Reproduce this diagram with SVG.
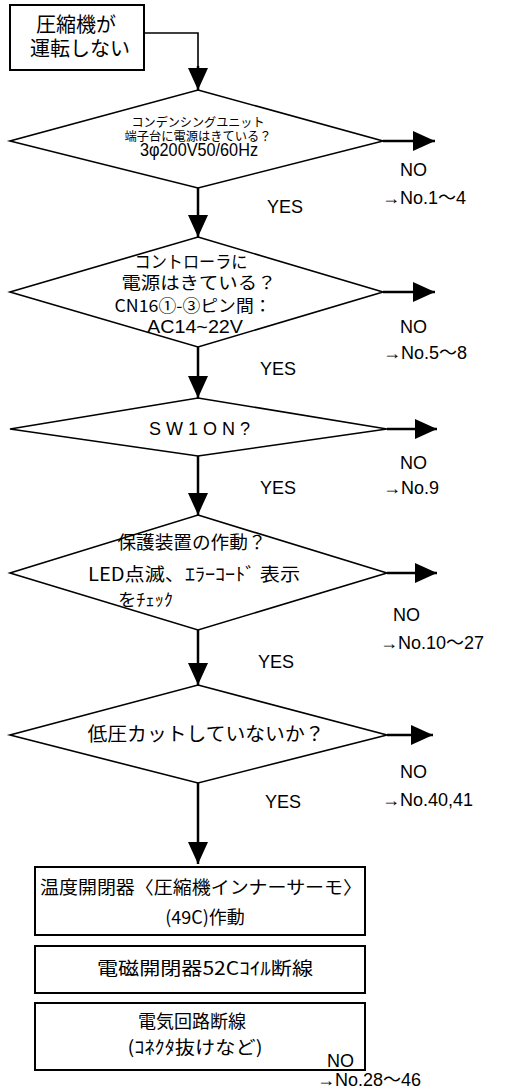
<svg xmlns="http://www.w3.org/2000/svg" width="510" height="1091" viewBox="0 0 510 1091">
<style>
.bg{fill:#fff}
.box{fill:#fff;stroke:#000;stroke-width:2}
.dia{fill:#fff;stroke:#000;stroke-width:1.6;stroke-linejoin:miter}
.ln{fill:none;stroke:#000;stroke-width:2.5}
.thin{fill:none;stroke:#000;stroke-width:1.6}
.jp{font-family:"Noto Sans CJK JP","Liberation Sans",sans-serif;fill:#000}
.lab{font-family:"Liberation Sans","Noto Sans CJK JP",sans-serif;font-size:18px;fill:#000}
.c{text-anchor:middle}
</style>
<defs>
<marker id="ah" viewBox="0 0 22 20" refX="22" refY="10" markerWidth="22" markerHeight="20" markerUnits="userSpaceOnUse" orient="auto">
<path d="M0,0 L22,10 L0,20 Z" fill="#000"/>
</marker>
</defs>
<rect class="bg" width="510" height="1091"/>

<g id="connectors">
<path class="thin" d="M144,33 H198 V70" />
<path class="ln" d="M198,66 V90" marker-end="url(#ah)"/>
<path class="ln" d="M198,188 V237" marker-end="url(#ah)"/>
<path class="ln" d="M198,347 V398" marker-end="url(#ah)"/>
<path class="ln" d="M198,456 V515" marker-end="url(#ah)"/>
<path class="ln" d="M198,630 V685" marker-end="url(#ah)"/>
<path class="ln" d="M198,783 V864" marker-end="url(#ah)"/>
<path class="ln" d="M383,141 H435" marker-end="url(#ah)"/>
<path class="ln" d="M383,292 H435" marker-end="url(#ah)"/>
<path class="ln" d="M387,429 H437" marker-end="url(#ah)"/>
<path class="ln" d="M387,573 H437" marker-end="url(#ah)"/>
<path class="ln" d="M387,735 H433" marker-end="url(#ah)"/>
</g>

<g id="start">
<rect class="box" x="10" y="5" width="134" height="65"/>
<text class="jp c" x="76" y="32" font-size="20">圧縮機が</text>
<text class="jp c" x="80" y="56" font-size="20">運転しない</text>
</g>

<g id="q1">
<polygon class="dia" points="198,90 383,141 198,188 10,141"/>
<text class="jp c" x="198" y="127" font-size="12.5" textLength="133" lengthAdjust="spacingAndGlyphs">コンデンシングユニット</text>
<text class="jp c" x="198" y="141" font-size="12.5" textLength="147" lengthAdjust="spacingAndGlyphs">端子台に電源はきている？</text>
<text class="lab c" x="199" y="156" font-size="14" textLength="118" lengthAdjust="spacingAndGlyphs">3φ200V50/60Hz</text>
<text class="lab" x="400" y="176">NO</text>
<text class="lab" x="382" y="204">→No.1～4</text>
<text class="lab" x="267" y="213">YES</text>
</g>

<g id="q2">
<polygon class="dia" points="198,237 383,292 198,347 10,292"/>
<text class="jp c" x="191" y="268" font-size="17" textLength="113" lengthAdjust="spacingAndGlyphs">コントローラに</text>
<text class="jp c" x="199" y="289" font-size="17" textLength="155" lengthAdjust="spacingAndGlyphs">電源はきている？</text>
<text class="jp c" x="193" y="312" font-size="17" textLength="157" lengthAdjust="spacingAndGlyphs">CN16①-③ピン間：</text>
<text class="lab c" x="195" y="333" font-size="18" textLength="96" lengthAdjust="spacingAndGlyphs">AC14~22V</text>
<text class="lab" x="400" y="333">NO</text>
<text class="lab" x="383" y="359">→No.5～8</text>
<text class="lab" x="260" y="375">YES</text>
</g>

<g id="q3">
<polygon class="dia" points="198,398 387,429 198,456 10,429"/>
<text class="lab c" x="202" y="435" font-size="17" letter-spacing="5">SW1ON?</text>
<text class="lab" x="400" y="469">NO</text>
<text class="lab" x="383" y="494">→No.9</text>
<text class="lab" x="260" y="494">YES</text>
</g>

<g id="q4">
<polygon class="dia" points="198,515 387,573 198,630 10,573"/>
<text class="jp c" x="192" y="549" font-size="18" textLength="149" lengthAdjust="spacingAndGlyphs">保護装置の作動？</text>
<text class="jp c" x="194" y="581" font-size="18" textLength="212" lengthAdjust="spacingAndGlyphs">LED点滅、ｴﾗｰｺｰﾄﾞ 表示</text>
<text class="jp" x="118" y="606" font-size="17" textLength="55" lengthAdjust="spacingAndGlyphs">をﾁｪｯｸ</text>
<text class="lab" x="393" y="621">NO</text>
<text class="lab" x="380" y="649">→No.10～27</text>
<text class="lab" x="258" y="668">YES</text>
</g>

<g id="q5">
<polygon class="dia" points="198,685 387,735 198,783 10,735"/>
<text class="jp c" x="206" y="741" font-size="19" textLength="237" lengthAdjust="spacingAndGlyphs">低圧カットしていないか？</text>
<text class="lab" x="400" y="778">NO</text>
<text class="lab" x="382" y="806">→No.40,41</text>
<text class="lab" x="265" y="808">YES</text>
</g>

<g id="cause1">
<rect class="box" x="35" y="867" width="330" height="68"/>
<text class="jp c" x="201" y="894" font-size="18" textLength="322" lengthAdjust="spacingAndGlyphs">温度開閉器〈圧縮機インナーサーモ〉</text>
<text class="jp c" x="205" y="924" font-size="18">(49C)作動</text>
</g>

<g id="cause2">
<rect class="box" x="35" y="946" width="330" height="47"/>
<text class="jp c" x="205" y="975" font-size="18" textLength="216" lengthAdjust="spacingAndGlyphs">電磁開閉器52Cｺｲﾙ断線</text>
</g>

<g id="cause3">
<rect class="box" x="35" y="1003" width="330" height="67"/>
<text class="jp c" x="192" y="1028" font-size="18">電気回路断線</text>
<text class="jp c" x="195" y="1054" font-size="18" textLength="135" lengthAdjust="spacingAndGlyphs">(ｺﾈｸﾀ抜けなど)</text>
<text class="lab" x="327" y="1067">NO</text>
<text class="lab" x="317" y="1086">→No.28～46</text>
</g>
</svg>
